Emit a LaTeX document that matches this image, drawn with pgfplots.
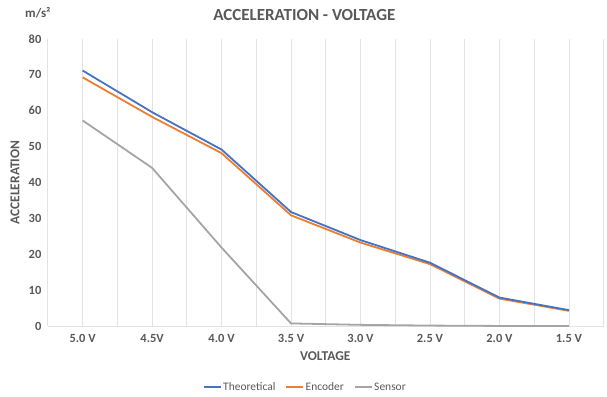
\documentclass[border=0pt]{standalone}
\usepackage{pgfplots}
\pgfplotsset{compat=1.18}
\usepackage{fontspec}
\setmainfont{Carlito}
\definecolor{cblue}{HTML}{4472C4}
\definecolor{corange}{HTML}{ED7D31}
\definecolor{cgray}{HTML}{A5A5A5}
\definecolor{txt}{HTML}{595959}
\definecolor{grd}{HTML}{E3E3E3}
\begin{document}
\begin{tikzpicture}[x=1pt,y=1pt]
\begin{axis}[
  at={(0,0)}, anchor=south west,
  scale only axis, width=557pt, height=288pt,
  xmin=-0.5, xmax=7.5, ymin=0, ymax=80,
  xtick={0,...,7},
  xticklabels={5.0 V,4.5V,4.0 V,3.5 V,3.0 V,2.5 V,2.0 V,1.5 V},
  ytick={0,10,...,80},
  extra x ticks={-0.5,0,...,7.5},
  extra x tick labels={},
  extra x tick style={grid=major, major tick length=0pt},
  major grid style={draw=grd, line width=0.8pt},
  major tick length=0pt,
  axis x line*=bottom, axis y line*=left,
  x axis line style={draw=grd, line width=0.8pt, -},
  y axis line style={draw=none},
  tick label style={font=\fontsize{12.5}{14}\selectfont\bfseries, text=txt},
  /pgf/number format/assume math mode=true,
  xticklabel style={yshift=-5pt},
  yticklabel style={xshift=-3pt},
  clip=false,
]
\addplot[cgray, line width=1.8pt] coordinates {(0,57.3) (1,44.1) (2,21.9) (3,0.8) (4,0.4) (5,0.2) (6,0.1) (7,0.1)};
\addplot[corange, line width=1.8pt] coordinates {(0,69.3) (1,58.3) (2,48.2) (3,30.9) (4,23.3) (5,17.3) (6,7.7) (7,4.3)};
\addplot[cblue, line width=1.8pt] coordinates {(0,71.2) (1,59.6) (2,49.2) (3,31.8) (4,24.0) (5,17.7) (6,8.0) (7,4.5)};
\end{axis}
\begin{axis}[
  at={(0,0)}, anchor=south west,
  scale only axis, width=557pt, height=288pt,
  xmin=-0.5, xmax=7.5, ymin=0, ymax=80,
  hide axis,
  legend style={draw=none, fill=none, at={(258pt,-61pt)}, anchor=center,
    font=\fontsize{11.5}{13}\selectfont, nodes={text=txt}, legend columns=3,
    /tikz/every even column/.append style={column sep=8pt}},
  legend image code/.code={\draw[#1, line width=1.4pt] (0pt,0pt) -- (17pt,0pt);},
]
\addlegendimage{cblue}\addlegendentry{Theoretical}
\addlegendimage{corange}\addlegendentry{Encoder}
\addlegendimage{cgray}\addlegendentry{Sensor}
\end{axis}
\node[font=\fontsize{17}{19}\selectfont\bfseries, text=txt] at (257,312) {ACCELERATION - VOLTAGE};
\node[font=\fontsize{13}{15}\selectfont\bfseries, text=txt] at (-10,314) {m/s²};
\node[font=\fontsize{13.5}{15}\selectfont\bfseries, text=txt, rotate=90] at (-33,144) {ACCELERATION};
\node[font=\fontsize{13.5}{15}\selectfont\bfseries, text=txt] at (278,-30) {VOLTAGE};
\path[use as bounding box] (-48,-70) rectangle (559,327);
\end{tikzpicture}
\end{document}
